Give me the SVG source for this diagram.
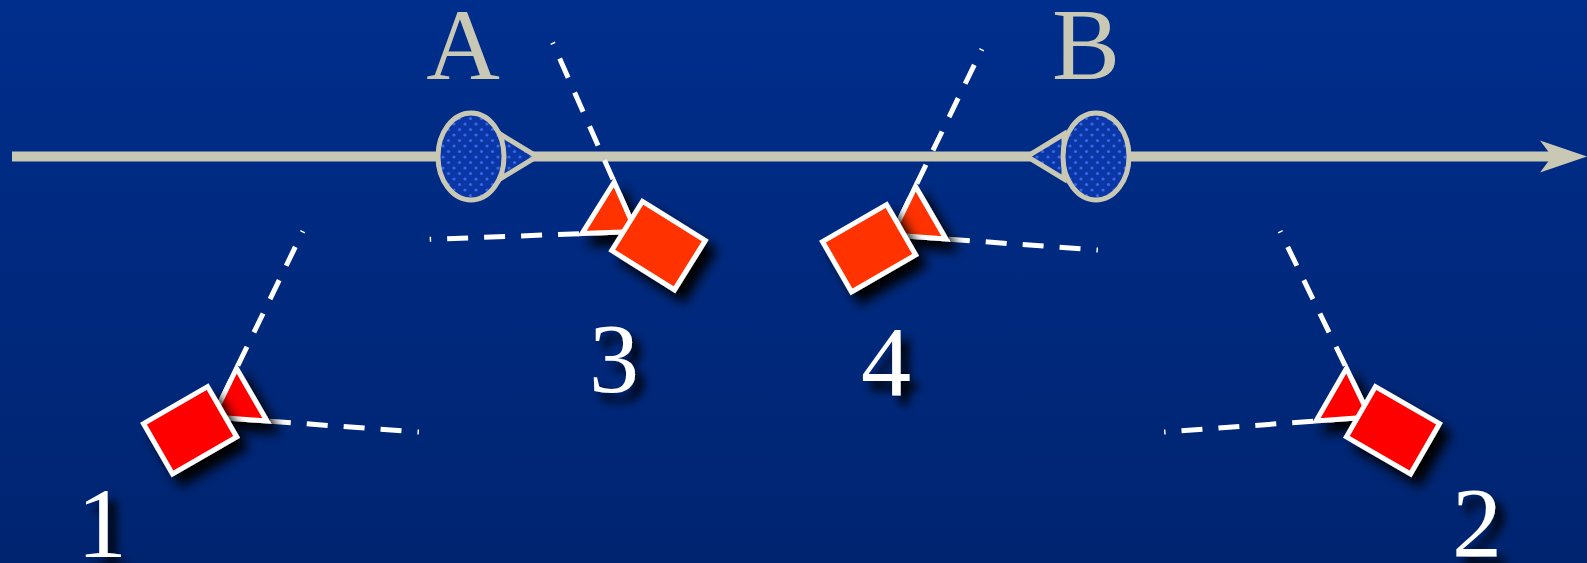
<svg xmlns="http://www.w3.org/2000/svg" width="1587" height="563" viewBox="0 0 1587 563">
  <defs>
    <linearGradient id="bg" x1="0" y1="0" x2="0" y2="1">
      <stop offset="0" stop-color="#002E8C"/>
      <stop offset="1" stop-color="#002470"/>
    </linearGradient>
    <pattern id="dots" width="11" height="11" patternUnits="userSpaceOnUse">
      <rect width="11" height="11" fill="#0B36A6"/>
      <circle cx="3" cy="3" r="1.6" fill="#3367EC"/>
      <circle cx="8.5" cy="8.5" r="1.6" fill="#3367EC"/>
    </pattern>
    <filter id="shadow" x="-50%" y="-50%" width="200%" height="200%">
      <feDropShadow dx="9" dy="10" stdDeviation="6" flood-color="#000" flood-opacity="1"/>
    </filter>
    <filter id="textShadow" x="-50%" y="-50%" width="200%" height="200%">
      <feDropShadow dx="8" dy="9" stdDeviation="5" flood-color="#000" flood-opacity="1"/>
    </filter>
    <style>
      .track { stroke: #C8C8B4; stroke-width: 10; fill: none; }
      .head { fill: #C8C8B4; }
      .station { fill: url(#dots); stroke: #C8C8B4; stroke-width: 5; stroke-linejoin: miter; }
      .letter { font-family: "Liberation Serif", "Times New Roman", serif; font-size: 102px; fill: #C8C8B4; text-anchor: middle; }
      .num { font-family: "Liberation Serif", "Times New Roman", serif; font-size: 100px; fill: #FFFFFF; text-anchor: middle; filter: url(#textShadow); }
      .fov { stroke: #FFFFFF; stroke-width: 5; fill: none; stroke-dasharray: 21 16; stroke-dashoffset: 17; }
      .body { stroke: #FFFFFF; stroke-width: 5; stroke-linejoin: miter; }
      .red { fill: #FF0000; }
      .orange { fill: #FF3300; }
    </style>
  </defs>

  <rect x="0" y="0" width="1587" height="563" fill="url(#bg)"/>

  <!-- connectors: the main track with its arrowhead -->
  <g id="connectors">
    <line class="track" x1="12" y1="156.5" x2="1556" y2="156.5"/>
    <polygon class="head" points="1540,140.5 1587,156.5 1540,172.5 1552,156.5"/>
  </g>

  <!-- camera 1 (facing up-right) -->
  <g id="camera1">
    <g transform="translate(213,417) rotate(-30)">
      <line class="fov" x1="0" y1="0" x2="170.8" y2="-116"/>
      <line class="fov" x1="0" y1="0" x2="170.8" y2="116"/>
    </g>
    <g filter="url(#shadow)">
      <polygon class="body red" transform="translate(213,417) rotate(-30)" points="0,0 44.7,-30.4 44.7,30.4"/>
    </g>
    <g filter="url(#shadow)">
      <rect class="body red" transform="translate(213,417) rotate(-30)" x="-63.5" y="-29" width="74" height="58"/>
    </g>
  </g>

  <!-- camera 4 (facing up-right) -->
  <g id="camera4">
    <g transform="translate(892,235) rotate(-30)">
      <line class="fov" x1="0" y1="0" x2="170.8" y2="-116"/>
      <line class="fov" x1="0" y1="0" x2="170.8" y2="116"/>
    </g>
    <g filter="url(#shadow)">
      <polygon class="body orange" transform="translate(892,235) rotate(-30)" points="0,0 44.7,-30.4 44.7,30.4"/>
    </g>
    <g filter="url(#shadow)">
      <rect class="body orange" transform="translate(892,235) rotate(-30)" x="-63.5" y="-29" width="74" height="58"/>
    </g>
  </g>

  <!-- camera 3 (facing up-left) -->
  <g id="camera3">
    <g transform="translate(636,231.5) scale(-1,1) rotate(-32)">
      <line class="fov" x1="0" y1="0" x2="170.8" y2="-116"/>
      <line class="fov" x1="0" y1="0" x2="170.8" y2="116"/>
    </g>
    <g filter="url(#shadow)">
      <polygon class="body orange" transform="translate(636,231.5) scale(-1,1) rotate(-32)" points="0,0 44.7,-30.4 44.7,30.4"/>
    </g>
    <g filter="url(#shadow)">
      <rect class="body orange" transform="translate(636,231.5) scale(-1,1) rotate(-32)" x="-63.5" y="-29" width="74" height="58"/>
    </g>
  </g>

  <!-- camera 2 (facing up-left) -->
  <g id="camera2">
    <g transform="translate(1370,417) scale(-1,1) rotate(-30)">
      <line class="fov" x1="0" y1="0" x2="170.8" y2="-116"/>
      <line class="fov" x1="0" y1="0" x2="170.8" y2="116"/>
    </g>
    <g filter="url(#shadow)">
      <polygon class="body red" transform="translate(1370,417) scale(-1,1) rotate(-30)" points="0,0 44.7,-30.4 44.7,30.4"/>
    </g>
    <g filter="url(#shadow)">
      <rect class="body red" transform="translate(1370,417) scale(-1,1) rotate(-30)" x="-63.5" y="-29" width="74" height="58"/>
    </g>
  </g>

  <!-- station A -->
  <g id="stationA">
    <polygon class="station" points="500,134 537,156.5 500,179"/>
    <ellipse class="station" cx="471" cy="156.5" rx="33" ry="43.5"/>
    <text class="letter" x="463" y="79">A</text>
  </g>

  <!-- station B -->
  <g id="stationB">
    <polygon class="station" points="1064,134 1027,156.5 1064,179"/>
    <ellipse class="station" cx="1096" cy="156.5" rx="33" ry="43.5"/>
    <text class="letter" x="1086" y="79">B</text>
  </g>

  <!-- camera numbers -->
  <g id="labels">
    <text class="num" x="102" y="557">1</text>
    <text class="num" x="1477" y="556">2</text>
    <text class="num" x="614" y="392">3</text>
    <text class="num" x="886" y="395">4</text>
  </g>
</svg>
